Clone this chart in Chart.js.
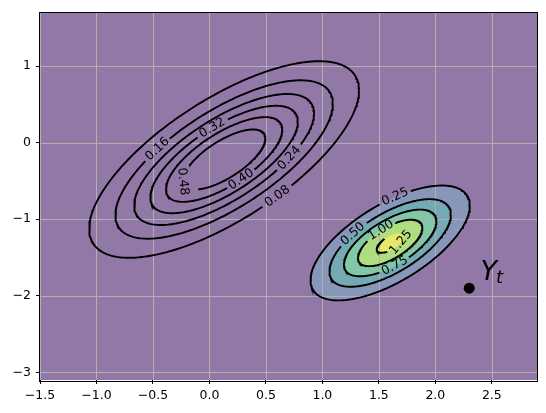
<!DOCTYPE html>
<html>
<head>
<meta charset="utf-8">
<script src="https://cdn.jsdelivr.net/npm/chart.js@4.4.1/dist/chart.umd.min.js"></script>
<style>
  body { margin: 0; background: #fff; }
</style>
</head>
<body>
<canvas id="chart" width="546" height="413"></canvas>
<script>
// axis ticks and limits
const xTicks = [-1.5, -1.0, -0.5, 0.0, 0.5, 1.0, 1.5, 2.0, 2.5];
const yTicks = [-3, -2, -1, 0, 1];
const xLimits = [-1.5, 2.9];
const yLimits = [-3.1, 1.7];

// first gaussian (black contour lines)
const priorMean = [0.13, -0.22];
const priorCov = [0.361, 0.273, 0.417]; // xx, xy, yy
const priorLevels = [0.08, 0.16, 0.24, 0.32, 0.40, 0.48];
const priorLabelNear = [[0.62, -0.72], [-0.44, -0.09], [0.76, -0.20], [0.03, 0.17], [0.27, -0.46], [-0.06, -0.37]];

// second gaussian (filled contours + lines)
const postMean = [1.60, -1.31];
const postCov = [0.150, 0.1036, 0.1698];
const postLevels = [0.25, 0.50, 0.75, 1.00, 1.25];
const postLabelNear = [[1.64, -0.78], [1.26, -1.19], [1.64, -1.60], [1.51, -1.13], [1.73, -1.30]];

// observed point
const obsPoint = [2.3, -1.9];
const obsLabel = [2.4, -1.8];

// faded viridis colours for the 6 filled bands (lowest band = whole background)
const bandColors = ['#9278a6', '#8896b9', '#74aab4', '#80c8a6', '#b0dd80', '#e6e86a'];

const FONT = 'DejaVu Sans';
const labelFont = '12.5px "' + FONT + '"';
const measure = document.createElement('canvas').getContext('2d');
measure.font = labelFont;

function peakOf(cov) {
  const det = cov[0] * cov[2] - cov[1] * cov[1];
  return 1 / (2 * Math.PI * Math.sqrt(det));
}
function chol(cov) {
  const a = Math.sqrt(cov[0]), b = cov[1] / a;
  return [a, b, Math.sqrt(cov[2] - b * b)];
}
function radius(cov, level) {
  return Math.sqrt(2 * Math.log(peakOf(cov) / level));
}
function pointAt(mean, cov, level, t) {
  const [a, b, c] = chol(cov), d = radius(cov, level);
  return { x: mean[0] + d * a * Math.cos(t), y: mean[1] + d * (b * Math.cos(t) + c * Math.sin(t)) };
}
function contour(mean, cov, level) {
  const pts = [];
  const n = 240;
  for (let k = 0; k <= n; k++) pts.push(pointAt(mean, cov, level, 2 * Math.PI * k / n));
  return pts;
}
function paramNear(mean, cov, q) {
  const [a, b, c] = chol(cov);
  const ux = q[0] - mean[0], uy = q[1] - mean[1];
  const cs = ux / a;
  return Math.atan2((uy - b * cs) / c, cs);
}
function fmt(v, dec) {
  return v.toFixed(dec).replace('-', '\u2212');
}

const datasets = [];
// background band (lowest level covers whole grid)
datasets.push({
  data: [{x: xLimits[0], y: yLimits[0]}, {x: xLimits[1], y: yLimits[0]}, {x: xLimits[1], y: yLimits[1]}, {x: xLimits[0], y: yLimits[1]}, {x: xLimits[0], y: yLimits[0]}],
  showLine: true, fill: 'shape', backgroundColor: bandColors[0], borderWidth: 0, pointRadius: 0, order: 30
});
postLevels.forEach((lv, i) => {
  datasets.push({
    data: contour(postMean, postCov, lv),
    showLine: true, fill: 'shape', backgroundColor: bandColors[i + 1], borderWidth: 0, pointRadius: 0,
    order: 25 - i, gridAfter: i === postLevels.length - 1
  });
});

function addLines(mean, cov, levels, near) {
  levels.forEach((lv, i) => {
    const t = paramNear(mean, cov, near[i]);
    const text = lv.toFixed(2);
    datasets.push({
      data: contour(mean, cov, lv),
      showLine: true, borderColor: '#000', borderWidth: 1.9, pointRadius: 0, fill: false, order: 5,
      labelInfo: { text: text, mean: mean, cov: cov, level: lv, t: t, half: measure.measureText(text).width / 2 + 3 },
      segment: {
        borderColor: ctx => {
          const L = ctx.chart.data.datasets[ctx.datasetIndex].labelInfo;
          const p = pointAt(L.mean, L.cov, L.level, L.t);
          const px = ctx.chart.scales.x.getPixelForValue(p.x);
          const py = ctx.chart.scales.y.getPixelForValue(p.y);
          const mx = (ctx.p0.x + ctx.p1.x) / 2, my = (ctx.p0.y + ctx.p1.y) / 2;
          return Math.hypot(mx - px, my - py) < L.half ? 'rgba(0,0,0,0)' : undefined;
        }
      }
    });
  });
}
addLines(priorMean, priorCov, priorLevels, priorLabelNear);
addLines(postMean, postCov, postLevels, postLabelNear);

datasets.push({
  data: [{x: obsPoint[0], y: obsPoint[1]}],
  pointRadius: 5.5, pointBackgroundColor: '#000', pointBorderWidth: 0, order: 1
});

const overlay = {
  id: 'overlay',
  afterDatasetDraw(chart, args) {
    if (!chart.data.datasets[args.index].gridAfter) return;
    const {ctx, chartArea: a, scales} = chart;
    ctx.save();
    ctx.strokeStyle = '#b0b0b0';
    ctx.lineWidth = 1;
    ctx.beginPath();
    xTicks.forEach(v => {
      const x = Math.round(scales.x.getPixelForValue(v)) + 0.5;
      ctx.moveTo(x, a.top); ctx.lineTo(x, a.bottom);
    });
    yTicks.forEach(v => {
      const y = Math.round(scales.y.getPixelForValue(v)) + 0.5;
      ctx.moveTo(a.left, y); ctx.lineTo(a.right, y);
    });
    ctx.stroke();
    ctx.restore();
  },
  afterDatasetsDraw(chart) {
    const {ctx, chartArea: a, scales} = chart;
    ctx.save();
    // contour labels
    ctx.font = labelFont;
    ctx.fillStyle = '#000';
    ctx.textAlign = 'center';
    ctx.textBaseline = 'middle';
    chart.data.datasets.forEach(ds => {
      const L = ds.labelInfo;
      if (!L) return;
      const p = pointAt(L.mean, L.cov, L.level, L.t);
      const p2 = pointAt(L.mean, L.cov, L.level, L.t + 0.01);
      const px = scales.x.getPixelForValue(p.x), py = scales.y.getPixelForValue(p.y);
      let ang = Math.atan2(scales.y.getPixelForValue(p2.y) - py, scales.x.getPixelForValue(p2.x) - px);
      if (ang > Math.PI / 2) ang -= Math.PI;
      if (ang < -Math.PI / 2) ang += Math.PI;
      ctx.save();
      ctx.translate(px, py);
      ctx.rotate(ang);
      ctx.fillText(L.text, 0, 0);
      ctx.restore();
    });
    // Y_t label
    const lx = scales.x.getPixelForValue(obsLabel[0]);
    const ly = scales.y.getPixelForValue(obsLabel[1]);
    ctx.textAlign = 'left';
    ctx.textBaseline = 'alphabetic';
    ctx.font = 'italic 27px "' + FONT + '"';
    ctx.fillText('Y', lx, ly);
    const w = ctx.measureText('Y').width;
    ctx.font = 'italic 18px "' + FONT + '"';
    ctx.fillText('t', lx + w - 1, ly + 3);
    // frame
    ctx.strokeStyle = '#000';
    ctx.lineWidth = 1;
    ctx.strokeRect(Math.round(a.left) - 0.5, Math.round(a.top) - 0.5, Math.round(a.right - a.left) + 1, Math.round(a.bottom - a.top) + 1);
    ctx.restore();
  }
};

const tickFont = { family: FONT, size: 12.5 };
const ctx = document.getElementById('chart').getContext('2d');
const chart = new Chart(ctx, {
  type: 'scatter',
  data: { datasets: datasets },
  options: {
    responsive: false,
    animation: false,
    layout: { padding: { left: 0, right: 9, top: 10, bottom: 0 } },
    plugins: { legend: { display: false }, tooltip: { enabled: false } },
    scales: {
      x: {
        type: 'linear', min: xLimits[0], max: xLimits[1],
        afterBuildTicks: s => { s.ticks = xTicks.map(v => ({ value: v })); },
        afterFit: s => { s.height = 33; },
        ticks: { callback: v => fmt(v, 1), font: tickFont, color: '#000', padding: 4, maxRotation: 0, autoSkip: false },
        grid: { drawOnChartArea: false, drawTicks: true, tickLength: 4, tickColor: '#000', tickWidth: 1 },
        border: { display: false }
      },
      y: {
        type: 'linear', min: yLimits[0], max: yLimits[1],
        afterBuildTicks: s => { s.ticks = yTicks.map(v => ({ value: v })); },
        afterFit: s => { s.width = 40; },
        ticks: { callback: v => fmt(v, 0), font: tickFont, color: '#000', padding: 5, autoSkip: false },
        grid: { drawOnChartArea: false, drawTicks: true, tickLength: 4, tickColor: '#000', tickWidth: 1 },
        border: { display: false }
      }
    }
  },
  plugins: [overlay]
});
</script>
</body>
</html>
